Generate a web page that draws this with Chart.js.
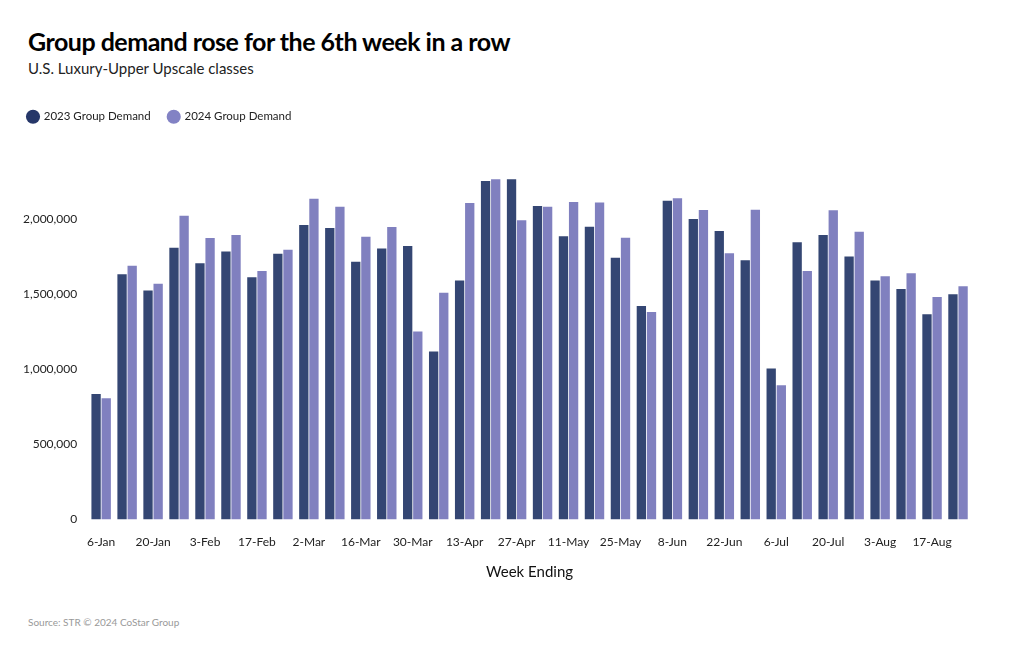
<!DOCTYPE html>
<html>
<head>
<meta charset="utf-8">
<script src="https://cdn.jsdelivr.net/npm/chart.js@4.4.0/dist/chart.umd.min.js"></script>
<style>
  body { margin: 0; background: #fff; font-family: Lato, "Noto Sans", sans-serif; }
  #wrap { position: relative; width: 1020px; height: 650px; }
  #title { position: absolute; left: 28px; top: 26px; font-size: 25px; font-weight: 700; color: #000; letter-spacing: -0.5px; }
  #subtitle { position: absolute; left: 28px; top: 59px; font-size: 15px; color: #222; }
  #source { position: absolute; left: 28px; top: 616px; font-size: 10px; color: #999; }
  #box { position: absolute; left: 20px; top: 93px; width: 980px; height: 492px; }
</style>
</head>
<body>
<div id="wrap">
  <div id="title">Group demand rose for the 6th week in a row</div>
  <div id="subtitle">U.S. Luxury-Upper Upscale classes</div>
  <div id="box"><canvas id="demand-chart"></canvas></div>
  <div id="source">Source: STR © 2024 CoStar Group</div>
</div>
<script>
var weeks = ['6-Jan', '13-Jan', '20-Jan', '27-Jan', '3-Feb', '10-Feb', '17-Feb', '24-Feb',
    '2-Mar', '9-Mar', '16-Mar', '23-Mar', '30-Mar', '6-Apr', '13-Apr', '20-Apr', '27-Apr',
    '4-May', '11-May', '18-May', '25-May', '1-Jun', '8-Jun', '15-Jun', '22-Jun', '29-Jun',
    '6-Jul', '13-Jul', '20-Jul', '27-Jul', '3-Aug', '10-Aug', '17-Aug', '24-Aug'];

var demand2023 = [835000, 1631000, 1522000, 1807000, 1704000, 1782000, 1611000, 1767000,
    1958000, 1938000, 1713000, 1802000, 1818000, 1118000, 1589000, 2251000, 2262000,
    2084000, 1884000, 1947000, 1740000, 1420000, 2120000, 1998000, 1918000, 1724000,
    1004000, 1844000, 1891000, 1749000, 1589000, 1533000, 1364000, 1498000];

var demand2024 = [807000, 1687000, 1567000, 2020000, 1871000, 1891000, 1653000, 1793000,
    2133000, 2080000, 1880000, 1944000, 1251000, 1507000, 2104000, 2262000, 1989000,
    2080000, 2111000, 2107000, 1873000, 1380000, 2135000, 2058000, 1771000, 2060000,
    893000, 1653000, 2056000, 1913000, 1618000, 1638000, 1480000, 1551000];

var yTicks = [0, 500000, 1000000, 1500000, 2000000];

// more room under the legend, and legend pulled left to line up with the title
var legendTweak = {
    id: 'legendTweak',
    beforeInit: function(chart) {
        var legend = chart.legend;
        var fit = legend.fit;
        legend.fit = function() {
            fit.apply(this, arguments);
            this.height += 26;
        };
        var draw = legend.draw;
        legend.draw = function() {
            this.ctx.save();
            this.ctx.translate(-10, 0);
            draw.apply(this, arguments);
            this.ctx.restore();
        };
    }
};

var ctx = document.getElementById('demand-chart').getContext('2d');
var demandChart = new Chart(ctx, {
    type: 'bar',
    data: {
        labels: weeks,
        datasets: [{
            label: '2023 Group Demand',
            data: demand2023,
            backgroundColor: '#344673'
        }, {
            label: '2024 Group Demand',
            data: demand2024,
            backgroundColor: '#8080bf'
        }]
    },
    options: {
        responsive: true,
        maintainAspectRatio: false,
        animation: false,
        layout: { padding: { left: 0, right: 29, top: 0, bottom: 0 } },
        datasets: {
            bar: { categoryPercentage: 0.78, barPercentage: 0.92 }
        },
        plugins: {
            legend: {
                position: 'top',
                align: 'start',
                labels: {
                    usePointStyle: true,
                    pointStyle: 'circle',
                    boxWidth: 10,
                    boxHeight: 10,
                    padding: 18,
                    color: '#222',
                    font: { family: 'Lato', size: 11.5 },
                    generateLabels: function(chart) {
                        var items = Chart.defaults.plugins.legend.labels.generateLabels(chart);
                        var dots = ['#263769', '#8282c4'];
                        items.forEach(function(item, i) {
                            item.fillStyle = dots[i];
                            item.strokeStyle = dots[i];
                            item.lineWidth = 0;
                        });
                        return items;
                    }
                }
            },
            tooltip: { enabled: false }
        },
        scales: {
            x: {
                grid: { display: false },
                border: { display: false },
                ticks: {
                    autoSkip: false,
                    maxRotation: 0,
                    padding: 7,
                    color: '#222',
                    font: { family: 'Lato', size: 12 },
                    callback: function(value, index) {
                        return index % 2 === 0 ? weeks[index] : '';
                    }
                },
                title: {
                    display: true,
                    text: 'Week Ending',
                    color: '#111',
                    font: { family: 'Lato', size: 15 },
                    padding: { top: 7 }
                }
            },
            y: {
                min: 0,
                max: 2400000,
                grid: { display: false },
                border: { display: false },
                afterBuildTicks: function(axis) {
                    axis.ticks = yTicks.map(function(v) { return { value: v }; });
                },
                ticks: {
                    color: '#222',
                    font: { family: 'Lato', size: 12 },
                    padding: 3,
                    callback: function(value) {
                        return value.toLocaleString('en-US');
                    }
                }
            }
        }
    },
    plugins: [legendTweak]
});
</script>
</body>
</html>
